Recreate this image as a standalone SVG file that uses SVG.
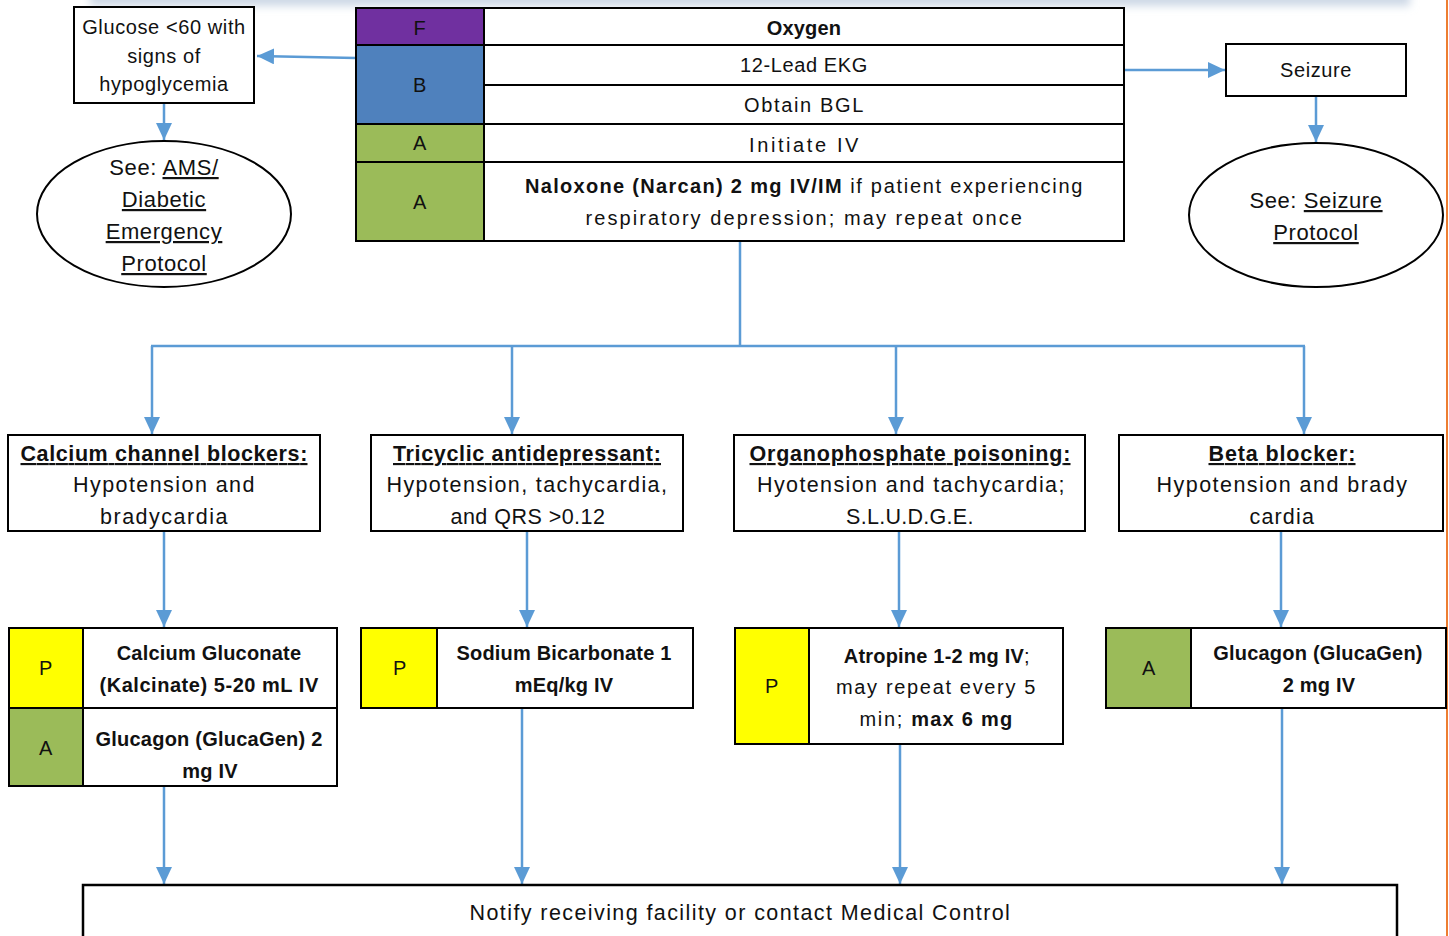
<svg xmlns="http://www.w3.org/2000/svg" width="1449" height="936" viewBox="0 0 1449 936">
<style>
text{font-family:"Liberation Sans",Arial,sans-serif;font-size:20px;fill:#111;text-anchor:middle;letter-spacing:0.6px}
.b{font-weight:bold;letter-spacing:0.2px}
.u{text-decoration:underline}
.m{font-size:21.5px}
.box{fill:#fff;stroke:#000;stroke-width:2}
.c{stroke:#5B9BD5;stroke-width:2.5;fill:none}
.F{fill:#7030A0;stroke:#000;stroke-width:2}
.B{fill:#4F81BD;stroke:#000;stroke-width:2}
.A{fill:#9BBB59;stroke:#000;stroke-width:2}
.P{fill:#FFFF00;stroke:#000;stroke-width:2}
</style>
<defs>
<marker id="ah" markerUnits="userSpaceOnUse" markerWidth="18" markerHeight="16" refX="17" refY="8" orient="auto">
<path d="M0,0 L17,8 L0,16 z" fill="#5B9BD5"/>
</marker>
<filter id="blur" x="-5%" y="-100%" width="110%" height="300%"><feGaussianBlur stdDeviation="4"/></filter>
</defs>
<rect width="1449" height="936" fill="#fff"/>
<rect x="90" y="-12" width="1320" height="18" fill="#cdd8e6" filter="url(#blur)"/>
<line x1="1447" y1="0" x2="1447" y2="936" stroke="#ED7D31" stroke-width="2"/>

<g id="connectors">
<line class="c" x1="356" y1="58" x2="257" y2="56" marker-end="url(#ah)"/>
<line class="c" x1="164" y1="103" x2="164" y2="140" marker-end="url(#ah)"/>
<polyline class="c" points="1124,70 1176,70 1176,70 1225,70" marker-end="url(#ah)"/>
<line class="c" x1="1316" y1="96" x2="1316" y2="142" marker-end="url(#ah)"/>
<polyline class="c" points="740,241 740,346"/>
<line class="c" x1="151" y1="346" x2="1305" y2="346"/>
<line class="c" x1="152" y1="346" x2="152" y2="434" marker-end="url(#ah)"/>
<line class="c" x1="512" y1="346" x2="512" y2="434" marker-end="url(#ah)"/>
<line class="c" x1="896" y1="346" x2="896" y2="434" marker-end="url(#ah)"/>
<line class="c" x1="1304" y1="346" x2="1304" y2="434" marker-end="url(#ah)"/>
<line class="c" x1="164" y1="531" x2="164" y2="627" marker-end="url(#ah)"/>
<line class="c" x1="527" y1="531" x2="527" y2="627" marker-end="url(#ah)"/>
<line class="c" x1="899" y1="531" x2="899" y2="627" marker-end="url(#ah)"/>
<line class="c" x1="1281" y1="531" x2="1281" y2="627" marker-end="url(#ah)"/>
<line class="c" x1="164" y1="786" x2="164" y2="884" marker-end="url(#ah)"/>
<line class="c" x1="522" y1="708" x2="522" y2="884" marker-end="url(#ah)"/>
<line class="c" x1="900" y1="744" x2="900" y2="884" marker-end="url(#ah)"/>
<line class="c" x1="1282" y1="708" x2="1282" y2="884" marker-end="url(#ah)"/>
</g>

<g id="glucose">
<rect class="box" x="74" y="7" width="180" height="96"/>
<text x="164" y="34">Glucose &lt;60 with</text>
<text x="164" y="63">signs of</text>
<text x="164" y="91">hypoglycemia</text>
</g>

<g id="ams">
<ellipse class="box" cx="164" cy="214" rx="127" ry="73"/>
<text x="164" y="175" style="font-size:22px">See: <tspan class="u">AMS/</tspan></text>
<text x="164" y="207" class="u" style="font-size:22px">Diabetic</text>
<text x="164" y="239" class="u" style="font-size:22px">Emergency</text>
<text x="164" y="271" class="u" style="font-size:22px">Protocol</text>
</g>

<g id="table">
<rect class="F" x="356" y="8" width="128" height="37"/>
<rect class="B" x="356" y="45" width="128" height="79"/>
<rect class="A" x="356" y="124" width="128" height="38"/>
<rect class="A" x="356" y="162" width="128" height="79"/>
<rect class="box" x="484" y="8" width="640" height="37"/>
<rect class="box" x="484" y="45" width="640" height="40"/>
<rect class="box" x="484" y="85" width="640" height="39"/>
<rect class="box" x="484" y="124" width="640" height="38"/>
<rect class="box" x="484" y="162" width="640" height="79"/>
<text x="420" y="35">F</text>
<text x="420" y="92">B</text>
<text x="420" y="150">A</text>
<text x="420" y="209">A</text>
<text x="804" y="35" class="b">Oxygen</text>
<text x="804" y="72">12-Lead EKG</text>
<text x="804" y="112" textLength="120" lengthAdjust="spacing">Obtain BGL</text>
<text x="804" y="152" textLength="110" lengthAdjust="spacing">Initiate IV</text>
<text x="804" y="193" textLength="558" lengthAdjust="spacing"><tspan class="b">Naloxone (Narcan) 2 mg IV/IM</tspan> if patient experiencing</text>
<text x="804" y="225" textLength="437" lengthAdjust="spacing">respiratory depression; may repeat once</text>
</g>

<g id="seizure">
<rect class="box" x="1226" y="44" width="180" height="52"/>
<text x="1316" y="77">Seizure</text>
</g>

<g id="seizure-protocol">
<ellipse class="box" cx="1316" cy="215" rx="127" ry="72"/>
<text x="1316" y="208" style="font-size:22px">See: <tspan class="u">Seizure</tspan></text>
<text x="1316" y="240" class="u" style="font-size:22px">Protocol</text>
</g>

<g id="ccb">
<rect class="box" x="8" y="435" width="312" height="96"/>
<text x="164" y="461" class="b u m" textLength="287" lengthAdjust="spacing">Calcium channel blockers:</text>
<text x="164" y="492" class="m" textLength="182" lengthAdjust="spacing">Hypotension and</text>
<text x="164" y="524" class="m" textLength="128" lengthAdjust="spacing">bradycardia</text>
</g>

<g id="tca">
<rect class="box" x="371" y="435" width="312" height="96"/>
<text x="527" y="461" class="b u m" textLength="268" lengthAdjust="spacing">Tricyclic antidepressant:</text>
<text x="527" y="492" class="m" textLength="281" lengthAdjust="spacing">Hypotension, tachycardia,</text>
<text x="528" y="524" class="m" textLength="155" lengthAdjust="spacing">and QRS &gt;0.12</text>
</g>

<g id="organophosphate">
<rect class="box" x="734" y="435" width="351" height="96"/>
<text x="910" y="461" class="b u m" textLength="321" lengthAdjust="spacing">Organophosphate poisoning:</text>
<text x="911" y="492" class="m" textLength="308" lengthAdjust="spacing">Hyotension and tachycardia;</text>
<text x="910" y="524" class="m" textLength="128" lengthAdjust="spacing">S.L.U.D.G.E.</text>
</g>

<g id="beta">
<rect class="box" x="1119" y="435" width="324" height="96"/>
<text x="1282" y="461" class="b u m" textLength="147" lengthAdjust="spacing">Beta blocker:</text>
<text x="1282" y="492" class="m" textLength="251" lengthAdjust="spacing">Hypotension and brady</text>
<text x="1282" y="524" class="m" textLength="65" lengthAdjust="spacing">cardia</text>
</g>

<g id="ccb-tx">
<rect class="P" x="9" y="628" width="74" height="80"/>
<rect class="A" x="9" y="708" width="74" height="78"/>
<rect class="box" x="83" y="628" width="254" height="80"/>
<rect class="box" x="83" y="708" width="254" height="78"/>
<text x="46" y="675">P</text>
<text x="46" y="755">A</text>
<text x="209" y="660" class="b">Calcium Gluconate</text>
<text x="209" y="692" class="b" textLength="219" lengthAdjust="spacing">(Kalcinate) 5-20 mL IV</text>
<text x="209" y="746" class="b" textLength="227" lengthAdjust="spacing">Glucagon (GlucaGen) 2</text>
<text x="210" y="778" class="b">mg IV</text>
</g>

<g id="tca-tx">
<rect class="P" x="361" y="628" width="76" height="80"/>
<rect class="box" x="437" y="628" width="256" height="80"/>
<text x="400" y="675">P</text>
<text x="564" y="660" class="b">Sodium Bicarbonate 1</text>
<text x="564" y="692" class="b">mEq/kg IV</text>
</g>

<g id="op-tx">
<rect class="P" x="735" y="628" width="74" height="116"/>
<rect class="box" x="809" y="628" width="254" height="116"/>
<text x="772" y="693">P</text>
<text x="937" y="663"><tspan class="b">Atropine 1-2 mg IV</tspan>;</text>
<text x="936" y="694" textLength="200" lengthAdjust="spacing">may repeat every 5</text>
<text x="936" y="726" textLength="153" lengthAdjust="spacing">min; <tspan class="b">max 6 mg</tspan></text>
</g>

<g id="beta-tx">
<rect class="A" x="1106" y="628" width="85" height="80"/>
<rect class="box" x="1191" y="628" width="255" height="80"/>
<text x="1149" y="675">A</text>
<text x="1318" y="660" class="b">Glucagon (GlucaGen)</text>
<text x="1319" y="692" class="b">2 mg IV</text>
</g>

<g id="notify">
<rect class="box" x="83" y="885" width="1314" height="70" style="stroke-width:2.5"/>
<text x="740" y="920" class="m" textLength="541" lengthAdjust="spacing">Notify receiving facility or contact Medical Control</text>
</g>
</svg>
